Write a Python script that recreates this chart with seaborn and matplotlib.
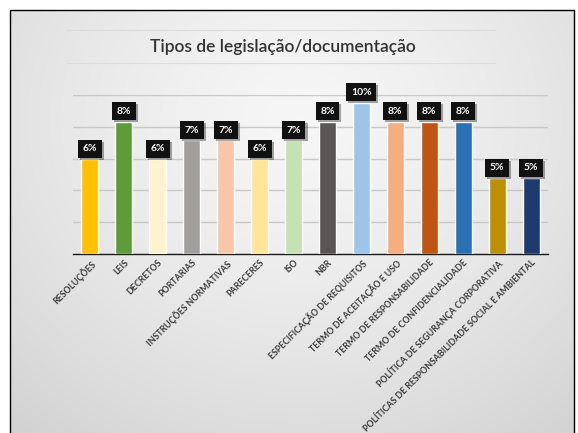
import numpy as np
import pandas as pd
import matplotlib
matplotlib.use("Agg")
import matplotlib.pyplot as plt
import matplotlib.patheffects as pe
from matplotlib.patches import Rectangle
import seaborn as sns

categories = ["RESOLUÇÕES", "LEIS", "DECRETOS", "PORTARIAS", "INSTRUÇÕES NORMATIVAS",
              "PARECERES", "ISO", "NBR", "ESPECIFICAÇÃO DE REQUISITOS",
              "TERMO DE ACEITAÇÃO E USO", "TERMO DE RESPONSABILIDADE",
              "TERMO DE CONFIDENCIALIDADE", "POLÍTICA DE SEGURANÇA CORPORATIVA",
              "POLÍTICAS DE RESPONSABILIDADE SOCIAL E AMBIENTAL"]
values = [5.95, 8.33, 5.95, 7.14, 7.14, 5.95, 7.14, 8.33, 9.52, 8.33, 8.33, 8.33, 4.76, 4.76]
labels = ["6%", "8%", "6%", "7%", "7%", "6%", "7%", "8%", "10%", "8%", "8%", "8%", "5%", "5%"]
colors = ["#FFC000", "#5E9C3A", "#FFF3CF", "#A19E9E", "#F8C7AA", "#FFE597", "#C4E2B2",
          "#5A5656", "#9DC5EA", "#F5AE80", "#C05412", "#2A70B2", "#BD8F05", "#1F3A6E"]

sns.set_style("white")
plt.rcParams['font.family'] = ['Lato', 'DejaVu Sans']

W, H = 578, 433
fig = plt.figure(figsize=(W / 100, H / 100), dpi=100)
fig.patch.set_facecolor("white")

# background gradient panel
yy, xx = np.mgrid[0:H, 0:W]
cx, cy = 300, 120
r = np.sqrt(((xx - cx) / 420.0) ** 2 + ((yy - cy) / 380.0) ** 2)
g = np.clip(0.965 - 0.13 * r ** 1.4, 0.8, 1.0)
img = np.dstack([g, g, g])
img[:10, :, :] = 1.0
img[:, :10, :] = 1.0
img[:, 574:, :] = 1.0
fig.figimage(img, xo=0, yo=0, origin="upper", zorder=-2)
fig.patches.append(Rectangle((10 / W, -0.01), 564 / W, 1 - 10 / H + 0.01,
                             transform=fig.transFigure, fill=False,
                             edgecolor="black", linewidth=1.0, zorder=-1))

# title box lines
for yl in (30, 63):
    fig.add_artist(plt.Line2D([67 / W, 495 / W], [1 - yl / H, 1 - yl / H],
                              transform=fig.transFigure, color="#dcdcdc", lw=0.8, zorder=-1))
fig.text(283 / W, 1 - 47 / H, "Tipos de legislação/documentação", ha="center",
         va="center", fontsize=12.5, fontweight="semibold", color="#333333")

ax = fig.add_axes([73 / W, 1 - 254 / H, (548 - 73) / W, (254 - 95) / H])
ax.set_zorder(3)
ax.set_facecolor("none")

df = pd.DataFrame({"cat": categories, "val": values})
sns.barplot(data=df, x="cat", y="val", hue="cat", palette=colors, legend=False,
            width=0.5, ax=ax, zorder=3, saturation=1)

ax.set_ylim(0, 10)
ax.set_xlim(-0.5, len(categories) - 0.5)
ax.set_yticks(np.arange(0, 11, 2))
ax.yaxis.grid(True, color="#c8c8c8", linewidth=1.0, zorder=0)
ax.set_axisbelow(True)
ax.tick_params(axis="y", left=False, labelleft=False)
ax.set_xlabel("")
ax.set_ylabel("")
for s in ("left", "right", "top"):
    ax.spines[s].set_visible(False)
ax.spines["bottom"].set_color("#1a1a1a")
ax.spines["bottom"].set_linewidth(1.0)

ax.set_xticks(range(len(categories)))
ax.set_xticklabels(categories, rotation=45, ha="right", rotation_mode="anchor",
                   fontsize=6.3, fontweight="bold", color="#3a3a3a")
ax.set_xticks(np.arange(-0.5, len(categories), 1), minor=True)
ax.tick_params(axis="x", which="major", length=0, pad=3)
ax.tick_params(axis="x", which="minor", length=4, width=1.0, color="#1a1a1a", direction="out")

for i, (v, lab) in enumerate(zip(values, labels)):
    t = ax.annotate(lab, (i, v), xytext=(0, 7.5), textcoords="offset points",
                    ha="center", va="center", fontsize=7.5, fontweight="bold", color="white",
                    bbox=dict(boxstyle="square,pad=0.45", fc="#111111", ec="none"), zorder=5)
    t.get_bbox_patch().set_path_effects([pe.SimplePatchShadow(offset=(1.5, -1.5), alpha=0.35), pe.Normal()])

fig.savefig("out.png", dpi=100)
